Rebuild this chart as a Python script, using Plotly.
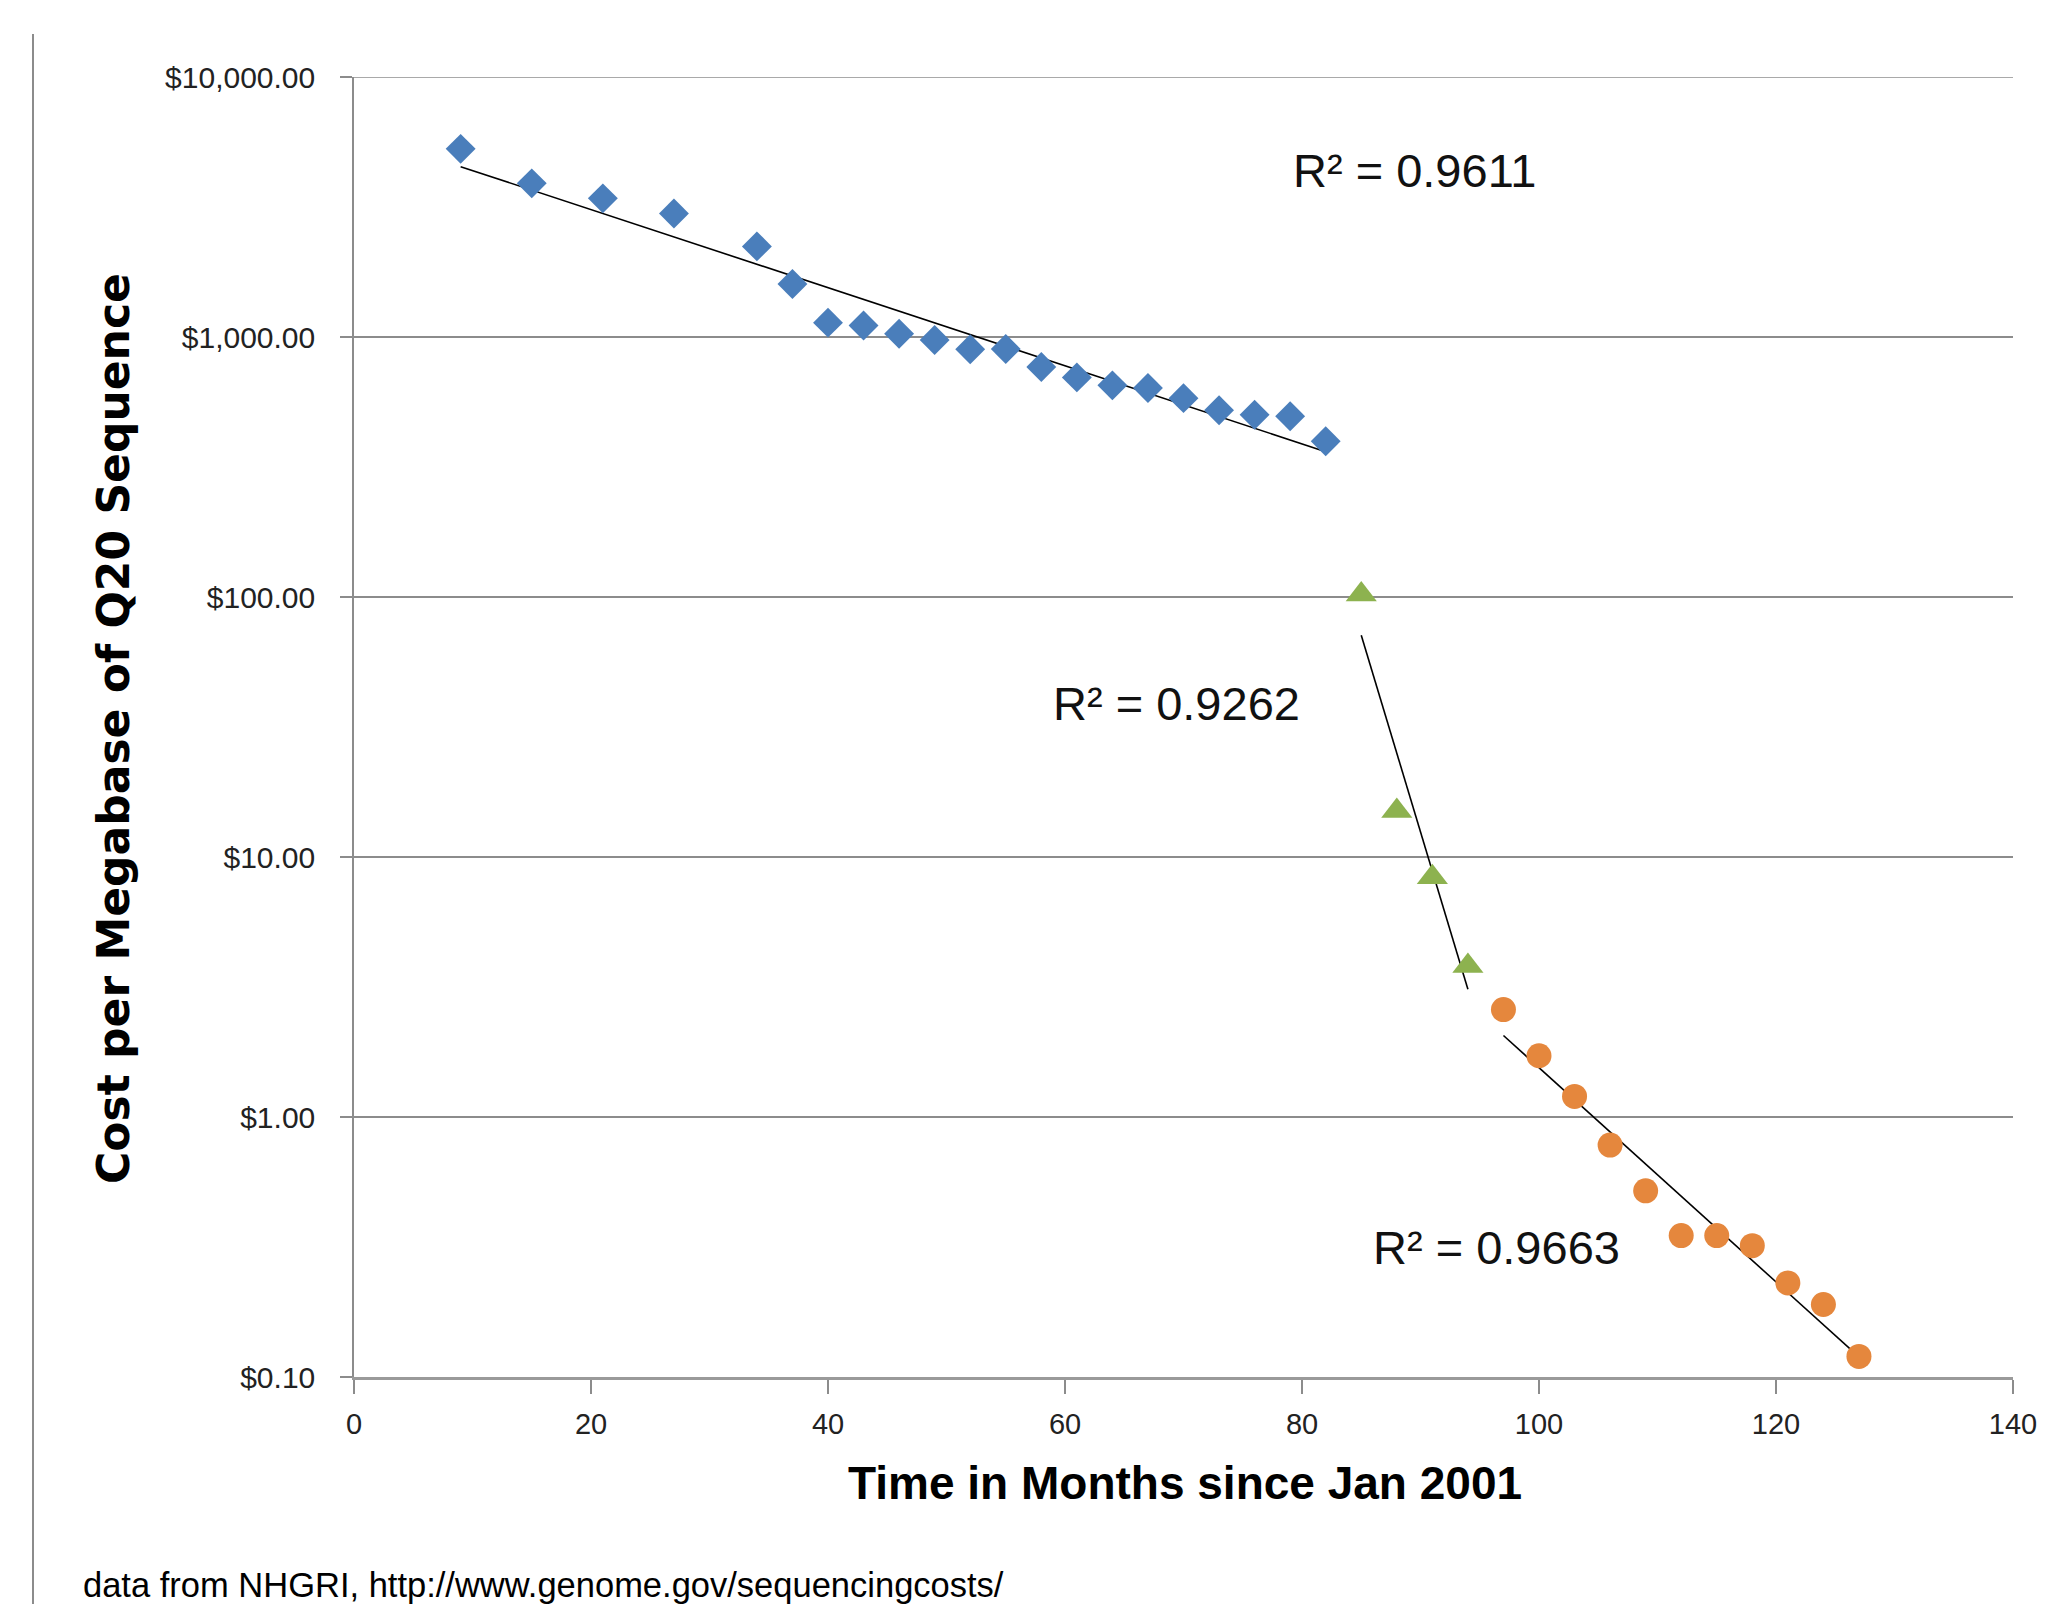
import numpy as np
import plotly.graph_objects as go

# Months since Jan 2001 and cost per megabase (USD)
sanger_months = [9, 15, 21, 27, 34, 37, 40, 43, 46, 49, 52, 55, 58, 61, 64, 67, 70, 73, 76, 79, 82]
sanger_cost = [5292.39, 3898.64, 3413.80, 2986.20, 2230.98, 1598.91, 1135.70, 1107.46, 1028.85,
               974.16, 897.76, 898.90, 766.73, 699.20, 651.81, 636.41, 581.92, 522.71, 502.61,
               495.96, 397.09]
transition_months = [85, 88, 91, 94]
transition_cost = [102.13, 15.03, 8.36, 3.81]
ngs_months = [97, 100, 103, 106, 109, 112, 115, 118, 121, 124, 127]
ngs_cost = [2.59, 1.72, 1.20, 0.78, 0.52, 0.35, 0.35, 0.32, 0.23, 0.19, 0.12]

r2_labels = ["R\u00b2 = 0.9611", "R\u00b2 = 0.9262", "R\u00b2 = 0.9663"]
r2_pos_x = [89.5, 69.4, 96.4]
r2_pos_logy = [3.639, 1.590, -0.503]

y_tickvals = [0.1, 1, 10, 100, 1000, 10000]
y_ticktext = ["$0.10", "$1.00", "$10.00", "$100.00", "$1,000.00", "$10,000.00"]
x_tickvals = [0, 20, 40, 60, 80, 100, 120, 140]

W, H = 2047, 1604
OFF = 8  # page body margin
L, R, T, B = 346, 42, 69, 235

fig = go.Figure()

series = [
    (sanger_months, sanger_cost, "diamond", 23, "#4A7EBB"),
    (transition_months, transition_cost, "triangle-up", 27, "#8DB24F"),
    (ngs_months, ngs_cost, "circle", 25, "#E5873D"),
]

for xs, ys, sym, size, col in series:
    xs_a = np.array(xs, dtype=float)
    ly = np.log10(np.array(ys, dtype=float))
    slope, icpt = np.polyfit(xs_a, ly, 1)
    xe = np.array([xs_a.min(), xs_a.max()])
    fig.add_trace(go.Scatter(x=xe, y=10 ** (icpt + slope * xe), mode="lines",
                             line=dict(color="black", width=1.6), showlegend=False,
                             hoverinfo="skip"))
    fig.add_trace(go.Scatter(x=xs, y=ys, mode="markers",
                             marker=dict(symbol=sym, size=size, color=col, line=dict(width=0)),
                             showlegend=False))

narrow = "Liberation Sans Narrow, Arial Narrow, Liberation Sans, sans-serif"

fig.update_layout(
    width=W, height=H,
    margin=dict(l=L, r=R, t=T, b=B),
    paper_bgcolor="white", plot_bgcolor="white",
    showlegend=False,
    xaxis=dict(range=[0, 140], tickvals=x_tickvals, showgrid=False, zeroline=False,
               showline=True, linecolor="#9a9a9a", linewidth=3,
               ticks="outside", ticklen=14, tickcolor="#8c8c8c", tickwidth=1.5,
               ticklabelstandoff=5,
               tickfont=dict(family=narrow, size=29, color="#222")),
    yaxis=dict(type="log", range=[-1, 4], tickvals=y_tickvals, ticktext=y_ticktext,
               showgrid=True, gridcolor="#8c8c8c", gridwidth=1.5, zeroline=False,
               showline=True, linecolor="#8c8c8c", linewidth=1.5,
               ticks="outside", ticklen=12, tickcolor="#8c8c8c", tickwidth=1.5,
               ticklabelstandoff=19,
               tickfont=dict(family=narrow, size=30, color="#222")),
)

# top gridline at the upper range edge (plotly omits it)
fig.add_shape(type="line", xref="x", yref="y", x0=0, x1=140,
              y0=y_tickvals[-1], y1=y_tickvals[-1],
              line=dict(color="#8c8c8c", width=1.5), layer="below")

for txt, ax_, ay_ in zip(r2_labels, r2_pos_x, r2_pos_logy):
    fig.add_annotation(x=ax_, y=ay_, xref="x", yref="y", text=txt, showarrow=False,
                       xanchor="center", yanchor="middle",
                       font=dict(family="Liberation Sans, Arial, sans-serif", size=47, color="#111"))

pw, ph = W - L - R, H - T - B
def px(xp):
    return (xp - OFF - L) / pw
def py(yp):
    return (H - B - (yp - OFF)) / ph

fig.add_annotation(x=px(114), y=py(729), xref="paper", yref="paper",
                   text="<b>Cost per Megabase of Q20 Sequence</b>", textangle=-90,
                   showarrow=False, xanchor="center", yanchor="middle",
                   font=dict(family="DejaVu Sans, sans-serif", size=44, color="black"))
fig.add_annotation(x=px(1185), y=py(1483), xref="paper", yref="paper",
                   text="<b>Time in Months since Jan 2001</b>",
                   showarrow=False, xanchor="center", yanchor="middle",
                   font=dict(family=narrow, size=46, color="black"))
fig.add_annotation(x=px(81), y=py(1585), xref="paper", yref="paper",
                   text="data from NHGRI, http://www.genome.gov/sequencingcosts/",
                   showarrow=False, xanchor="left", yanchor="middle",
                   font=dict(family=narrow, size=34.5, color="black"))

fig.add_shape(type="line", xref="paper", yref="paper",
              x0=px(33), x1=px(33), y0=py(34), y1=py(H + 20),
              line=dict(color="#8c8c8c", width=2))

fig.write_html("out.html")
